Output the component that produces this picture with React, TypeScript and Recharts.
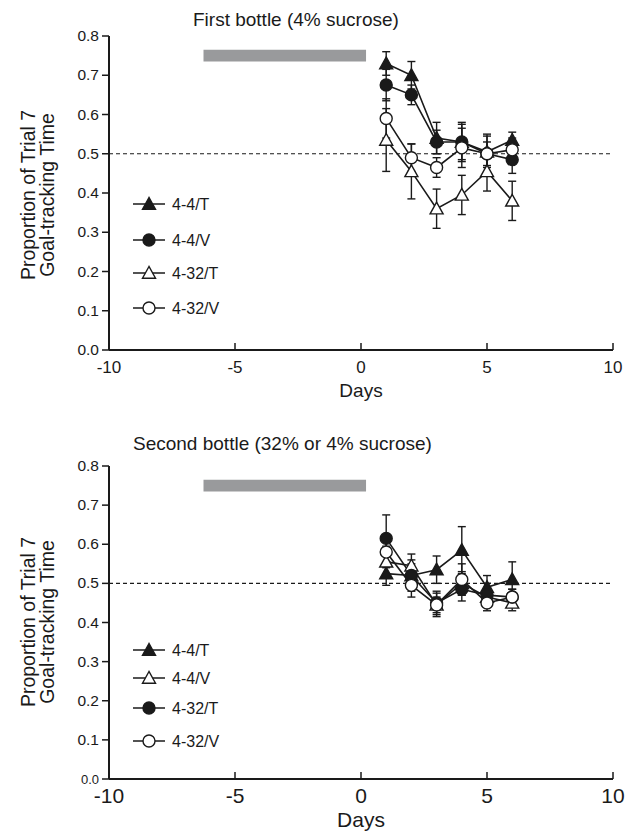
import React from "react"
import {LineChart, Line, XAxis, YAxis, ErrorBar, ReferenceLine, ReferenceArea} from "recharts"

const days = [1, 2, 3, 4, 5, 6]
const yTicks = [0, 0.1, 0.2, 0.3, 0.4, 0.5, 0.6, 0.7, 0.8]
const xTicks = [-10, -5, 0, 5, 10]

// first bottle (4% sucrose)
const first44T = [0.73, 0.70, 0.54, 0.53, 0.505, 0.535]
const first44TErr = [0.03, 0.035, 0.04, 0.045, 0.04, 0.02]
const first44V = [0.675, 0.65, 0.53, 0.53, 0.50, 0.485]
const first44VErr = [0.04, 0.025, 0.03, 0.05, 0.03, 0.035]
const first432T = [0.535, 0.455, 0.36, 0.395, 0.455, 0.38]
const first432TErr = [0.08, 0.07, 0.05, 0.05, 0.05, 0.05]
const first432V = [0.59, 0.49, 0.465, 0.515, 0.50, 0.51]
const first432VErr = [0.05, 0.035, 0.025, 0.05, 0.05, 0.03]

// second bottle (32% or 4% sucrose)
const second44T = [0.525, 0.52, 0.535, 0.585, 0.49, 0.51]
const second44TErr = [0.03, 0.03, 0.035, 0.06, 0.03, 0.045]
const second44V = [0.555, 0.545, 0.445, 0.50, 0.465, 0.45]
const second44VErr = [0.04, 0.03, 0.03, 0.03, 0.02, 0.02]
const second432T = [0.615, 0.52, 0.45, 0.485, 0.47, 0.465]
const second432TErr = [0.06, 0.04, 0.03, 0.03, 0.03, 0.02]
const second432V = [0.58, 0.495, 0.445, 0.51, 0.45, 0.465]
const second432VErr = [0.04, 0.03, 0.02, 0.04, 0.02, 0.02]

// grey bar (days -6.25 .. 0.2)
const barX = [-6.25, 0.2]
const barY = [0.735, 0.765]

type Series = {name: string, shape: "triangle" | "circle", filled: boolean, values: number[], errs: number[]}

const firstSeries: Series[] = [
    {name: "4-4/T", shape: "triangle", filled: true, values: first44T, errs: first44TErr},
    {name: "4-4/V", shape: "circle", filled: true, values: first44V, errs: first44VErr},
    {name: "4-32/T", shape: "triangle", filled: false, values: first432T, errs: first432TErr},
    {name: "4-32/V", shape: "circle", filled: false, values: first432V, errs: first432VErr},
]

const secondSeries: Series[] = [
    {name: "4-4/T", shape: "triangle", filled: true, values: second44T, errs: second44TErr},
    {name: "4-4/V", shape: "triangle", filled: false, values: second44V, errs: second44VErr},
    {name: "4-32/T", shape: "circle", filled: true, values: second432T, errs: second432TErr},
    {name: "4-32/V", shape: "circle", filled: false, values: second432V, errs: second432VErr},
]

const FONT = "'Liberation Sans', Arial, Helvetica, sans-serif"
const INK = "#1a1a1a"

const Marker = ({cx, cy, shape, filled}: any) => {
    if (cx == null || cy == null) return null
    const fill = filled ? INK : "#fff"
    if (shape === "triangle") {
        const s = 6.5
        return <polygon points={`${cx},${cy - s} ${cx - s},${cy + s * 0.8} ${cx + s},${cy + s * 0.8}`}
                        fill={fill} stroke={INK} strokeWidth={1.4}/>
    }
    return <circle cx={cx} cy={cy} r={6} fill={fill} stroke={INK} strokeWidth={1.4}/>
}

const makeRows = (series: Series[]) =>
    days.map((d, i) => {
        const row: any = {day: d}
        series.forEach((s, k) => {
            row["s" + k] = s.values[i]
            row["e" + k] = s.errs[i]
        })
        return row
    })

const XTick = ({x, y, payload, fontSize, dy}: any) => (
    <g>
        <line x1={x} x2={x} y1={y} y2={y - 7} stroke={INK} strokeWidth={1.5}/>
        <text x={x} y={y + dy} textAnchor="middle" fontSize={fontSize} fill={INK} fontFamily={FONT}>
            {payload.value}
        </text>
    </g>
)

const YTick = ({x, y, payload, small}: any) => {
    const v = payload.value
    const fs = small && v === 0 ? 13 : 15.5
    return (
        <text x={x} y={y + 5} textAnchor="end" fontSize={fs} fill={INK} fontFamily={FONT}>
            {v.toFixed(1)}
        </text>
    )
}

interface PanelProps {
    series: Series[]
    top: number
    title: string
    titleX: number
    titleY: number
    marginTop: number
    xFont: number
    xDy: number
    daysOffset: number
    daysFont: number
    labelMid: number
    legendRows: number[]
    small: boolean
}

const Panel = (p: PanelProps) => {
    const rows = makeRows(p.series)
    const plotBottom = p.top === 0 ? 350 : 360
    return (
        <div style={{position: "absolute", left: 0, top: p.top, width: 634, height: 419}}>
            <LineChart width={634} height={419} data={rows}
                       margin={{top: p.marginTop, right: 21, left: 59, bottom: 419 - plotBottom - 50}}>
                <XAxis type="number" dataKey="day" domain={[-10, 10]} ticks={xTicks} height={50}
                       stroke={INK} strokeWidth={2} tickSize={0} tickMargin={0}
                       tick={<XTick fontSize={p.xFont} dy={p.xDy}/>}
                       label={{value: "Days", position: "insideBottom", offset: p.daysOffset,
                           fontSize: p.daysFont, fill: INK, fontFamily: FONT}}/>
                <YAxis type="number" domain={[0, 0.8]} ticks={yTicks} width={50}
                       stroke={INK} strokeWidth={2} tickSize={7} tickMargin={3}
                       tickLine={{stroke: INK, strokeWidth: 1.5}}
                       tick={<YTick small={p.small}/>}/>
                <ReferenceArea x1={barX[0]} x2={barX[1]} y1={barY[0]} y2={barY[1]}
                               fill="#999a9c" fillOpacity={1} stroke="none"/>
                <ReferenceLine y={0.5} stroke={INK} strokeWidth={1.2} strokeDasharray="4 3"/>
                {p.series.map((s, k) => (
                    <Line key={s.name} type="linear" dataKey={"s" + k} stroke={INK} strokeWidth={1.6}
                          isAnimationActive={false}
                          dot={(d: any) => <Marker key={"m" + k + "-" + d.index} cx={d.cx} cy={d.cy}
                                                   shape={s.shape} filled={s.filled}/>}
                          activeDot={false}>
                        <ErrorBar dataKey={"e" + k} width={4} stroke={INK} strokeWidth={1.4} direction="y"/>
                    </Line>
                ))}
            </LineChart>
            <svg width={634} height={419} style={{position: "absolute", left: 0, top: 0, pointerEvents: "none"}}
                 fontFamily={FONT}>
                <text x={p.titleX} y={p.titleY} fontSize={19} fill={INK}>{p.title}</text>
                <g transform={`translate(35, ${p.labelMid}) rotate(-90)`}>
                    <text x={0} y={0} textAnchor="middle" fontSize={19.5} fill={INK}>Proportion of Trial 7</text>
                    <text x={0} y={19} textAnchor="middle" fontSize={19.5} fill={INK}>Goal-tracking Time</text>
                </g>
                {p.series.map((s, k) => (
                    <g key={s.name}>
                        <line x1={133} x2={165} y1={p.legendRows[k]} y2={p.legendRows[k]} stroke={INK} strokeWidth={1.5}/>
                        <Marker cx={149} cy={p.legendRows[k]} shape={s.shape} filled={s.filled}/>
                        <text x={172} y={p.legendRows[k] + 5.5} fontSize={16} fill={INK}>{s.name}</text>
                    </g>
                ))}
            </svg>
        </div>
    )
}

const App = () => (
    <div style={{position: "absolute", left: 0, top: 0, width: 634, height: 838, background: "#fff"}}>
        <Panel series={firstSeries} top={0} title="First bottle (4% sucrose)" titleX={193} titleY={26}
               marginTop={36} xFont={17} xDy={23} daysOffset={3} daysFont={19} labelMid={195}
               legendRows={[204, 240, 273, 308]} small={false}/>
        <Panel series={secondSeries} top={419} title="Second bottle (32% or 4% sucrose)" titleX={133} titleY={31}
               marginTop={47} xFont={21} xDy={24} daysOffset={2} daysFont={21} labelMid={203}
               legendRows={[650 - 419, 678 - 419, 708 - 419, 741 - 419]} small={true}/>
    </div>
)

export default App
